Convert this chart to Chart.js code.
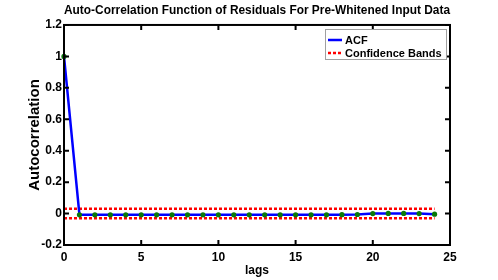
<!DOCTYPE html>
<html>
<head>
  <meta charset="UTF-8" />
  <title>ACF</title>
  <script src="https://cdn.jsdelivr.net/npm/chart.js"></script>
  <style>
    body { margin: 0; background: #fff; }
    #wrap { width: 498px; height: 280px; }
  </style>
</head>
<body>
  <div id="wrap"><canvas id="grafico"></canvas></div>
  <script>
    const lags = [0, 1, 2, 3, 4, 5, 6, 7, 8, 9, 10, 11, 12, 13, 14, 15, 16, 17, 18, 19, 20, 21, 22, 23, 24];
    const acf = [1, -0.008, -0.008, -0.008, -0.008, -0.008, -0.008, -0.008, -0.008, -0.008, -0.008, -0.008, -0.008,
                 -0.008, -0.008, -0.008, -0.008, -0.008, -0.007, -0.006, 0.0, 0.001, 0.001, 0.0, -0.004];
    const bandLags = [0, 24];
    const upperBand = [0.03, 0.03];
    const lowerBand = [-0.03, -0.03];
    const xTicks = [0, 5, 10, 15, 20, 25];
    const yTicks = [-0.2, 0, 0.2, 0.4, 0.6, 0.8, 1, 1.2];

    const fonte = "'Liberation Sans', Arial, sans-serif";

    // caixa, marcas internas e legenda
    const moldura = {
      id: "moldura",
      afterDraw(chart) {
        const { ctx, chartArea: a, scales } = chart;
        ctx.save();
        ctx.strokeStyle = "#000";
        ctx.lineWidth = 2;
        ctx.strokeRect(a.left, a.top, a.right - a.left, a.bottom - a.top);
        ctx.beginPath();
        xTicks.forEach(v => {
          const x = scales.x.getPixelForValue(v);
          ctx.moveTo(x, a.bottom); ctx.lineTo(x, a.bottom - 5);
          ctx.moveTo(x, a.top); ctx.lineTo(x, a.top + 5);
        });
        yTicks.forEach(v => {
          const y = scales.y.getPixelForValue(v);
          ctx.moveTo(a.left, y); ctx.lineTo(a.left + 5, y);
          ctx.moveTo(a.right, y); ctx.lineTo(a.right - 5, y);
        });
        ctx.stroke();

        // legenda
        const lx = 325, ly = 29, lw = 121, lh = 30;
        ctx.fillStyle = "#fff";
        ctx.fillRect(lx, ly, lw, lh);
        ctx.strokeStyle = "#a0a0a0";
        ctx.lineWidth = 1;
        ctx.strokeRect(lx + 0.5, ly + 0.5, lw, lh);
        const itens = [
          { texto: chart.data.datasets[0].label, cor: "#0000ff", dash: [], y: ly + 11 },
          { texto: chart.data.datasets[1].label, cor: "#ff0000", dash: [3, 2], y: ly + 24 }
        ];
        ctx.font = "bold 11px " + fonte;
        ctx.textBaseline = "middle";
        itens.forEach(it => {
          ctx.strokeStyle = it.cor;
          ctx.lineWidth = 2.5;
          ctx.setLineDash(it.dash);
          ctx.beginPath();
          ctx.moveTo(lx + 3, it.y); ctx.lineTo(lx + 17, it.y);
          ctx.stroke();
          ctx.setLineDash([]);
          ctx.fillStyle = "#000";
          ctx.fillText(it.texto, lx + 20, it.y + 1);
        });
        ctx.restore();
      }
    };

    new Chart(document.getElementById("grafico"), {
      type: "line",
      data: {
        datasets: [
          {
            label: "ACF",
            data: lags.map((l, i) => ({ x: l, y: acf[i] })),
            borderColor: "#0000ff",
            borderWidth: 2.5,
            pointRadius: 2.6,
            pointBorderWidth: 0,
            pointBackgroundColor: "#0a7a0a",
            tension: 0,
            clip: false
          },
          {
            label: "Confidence Bands",
            data: bandLags.map((l, i) => ({ x: l, y: upperBand[i] })),
            borderColor: "#ff0000",
            borderWidth: 2.5,
            borderDash: [3, 2],
            pointRadius: 0
          },
          {
            label: "Confidence Bands (inferior)",
            data: bandLags.map((l, i) => ({ x: l, y: lowerBand[i] })),
            borderColor: "#ff0000",
            borderWidth: 2.5,
            borderDash: [3, 2],
            pointRadius: 0
          }
        ]
      },
      options: {
        responsive: true,
        maintainAspectRatio: false,
        animation: false,
        layout: { padding: { left: 0, right: 48, top: 0, bottom: 0 } },
        plugins: {
          legend: { display: false },
          tooltip: { enabled: false },
          title: {
            display: true,
            fullSize: false,
            text: "Auto-Correlation Function of Residuals For Pre-Whitened Input Data",
            color: "#000",
            font: { family: fonte, size: 12.8, weight: "bold" },
            padding: { top: 2.5, bottom: 7.1 }
          }
        },
        scales: {
          x: {
            type: "linear",
            min: 0,
            max: 25,
            afterFit: s => { s.height = 35; },
            afterBuildTicks: s => { s.ticks = xTicks.map(v => ({ value: v })); },
            grid: { display: false, drawTicks: false },
            border: { display: false },
            ticks: {
              color: "#000",
              padding: 5,
              font: { family: fonte, size: 12, weight: "bold" }
            },
            title: {
              display: true,
              text: "lags",
              color: "#000",
              font: { family: fonte, size: 12, weight: "bold" },
              padding: { top: 0, bottom: 2 }
            }
          },
          y: {
            min: -0.2,
            max: 1.2,
            afterFit: s => { s.width = 64; },
            afterBuildTicks: s => { s.ticks = yTicks.map(v => ({ value: v })); },
            grid: { display: false, drawTicks: false },
            border: { display: false },
            ticks: {
              color: "#000",
              padding: 2,
              font: { family: fonte, size: 12, weight: "bold" },
              callback: v => String(+v.toFixed(1))
            },
            title: {
              display: true,
              text: "Autocorrelation",
              color: "#000",
              font: { family: fonte, size: 15, weight: "bold" },
              padding: { top: 26, bottom: 0 }
            }
          }
        }
      },
      plugins: [moldura]
    });
  </script>
</body>
</html>
